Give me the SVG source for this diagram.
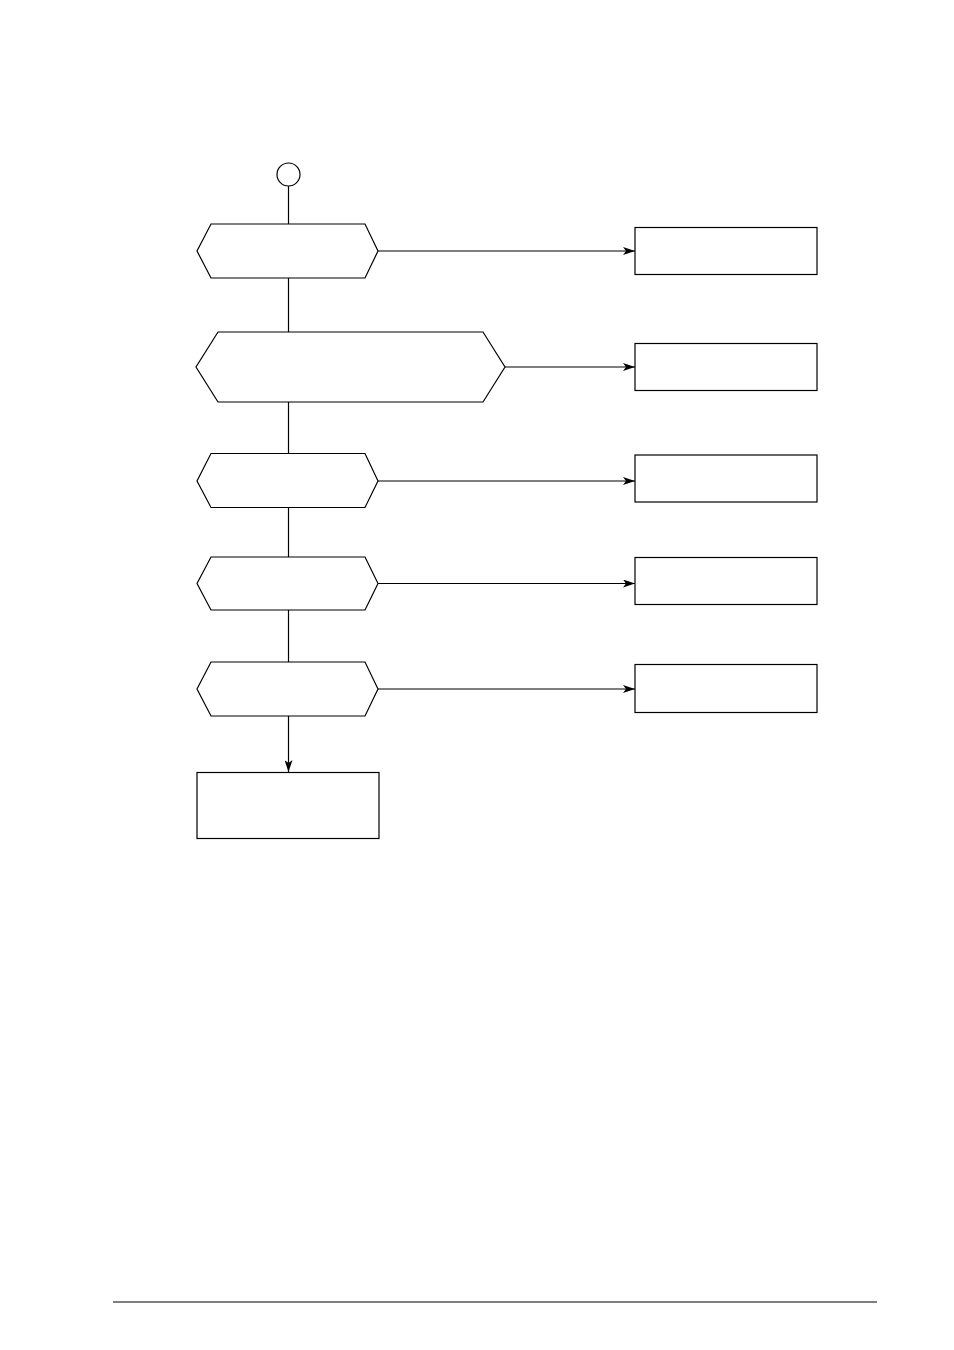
<svg xmlns="http://www.w3.org/2000/svg" width="954" height="1350" viewBox="0 0 954 1350">
<style>
.n{fill:#fff;stroke:#000;stroke-width:1.2}
.c{fill:none;stroke:#000;stroke-width:1.2}
</style>
<defs>
<marker id="ah" viewBox="0 0 12 8" refX="12" refY="4" markerWidth="12" markerHeight="8" markerUnits="userSpaceOnUse" orient="auto">
<path d="M0,0 L12,4 L0,8 L3,4 Z" fill="#000"/>
</marker>
</defs>
<rect width="954" height="1350" fill="#fff"/>
<g id="connectors">
<line class="c" x1="288.5" y1="186" x2="288.5" y2="224"/>
<line class="c" x1="288.5" y1="278" x2="288.5" y2="332"/>
<line class="c" x1="288.5" y1="402" x2="288.5" y2="453"/>
<line class="c" x1="288.5" y1="507" x2="288.5" y2="557"/>
<line class="c" x1="288.5" y1="610" x2="288.5" y2="662"/>
<line class="c" x1="288.5" y1="716" x2="288.5" y2="772" marker-end="url(#ah)"/>
<line class="c" x1="378" y1="251" x2="635" y2="251" marker-end="url(#ah)"/>
<line class="c" x1="505" y1="367" x2="635" y2="367" marker-end="url(#ah)"/>
<line class="c" x1="378" y1="481" x2="635" y2="481" marker-end="url(#ah)"/>
<line class="c" x1="378" y1="583.5" x2="635" y2="583.5" marker-end="url(#ah)"/>
<line class="c" x1="378" y1="689" x2="635" y2="689" marker-end="url(#ah)"/>
</g>
<g id="start"><circle class="n" cx="288.5" cy="174.5" r="11.5"/></g>
<g id="d1"><polygon class="n" points="211,224 365,224 378,251 365,278 211,278 197,251"/></g>
<g id="d2"><polygon class="n" points="218,332 483,332 505,367 483,402 218,402 196,367"/></g>
<g id="d3"><polygon class="n" points="211,453.5 365,453.5 378,481 365,507.5 211,507.5 197,481"/></g>
<g id="d4"><polygon class="n" points="211,557 365,557 378,583.5 365,610 211,610 197,583.5"/></g>
<g id="d5"><polygon class="n" points="211,662 365,662 378,689 365,716 211,716 197,689"/></g>
<g id="b1"><rect class="n" x="635" y="227.5" width="182" height="47"/></g>
<g id="b2"><rect class="n" x="635" y="343.5" width="182" height="47"/></g>
<g id="b3"><rect class="n" x="635" y="455" width="182" height="47"/></g>
<g id="b4"><rect class="n" x="635" y="557.5" width="182" height="47"/></g>
<g id="b5"><rect class="n" x="635" y="664.5" width="182" height="48"/></g>
<g id="end"><rect class="n" x="197" y="772.5" width="182" height="66"/></g>
<g id="footer"><line class="c" x1="113" y1="1302" x2="877" y2="1302"/></g>
</svg>
